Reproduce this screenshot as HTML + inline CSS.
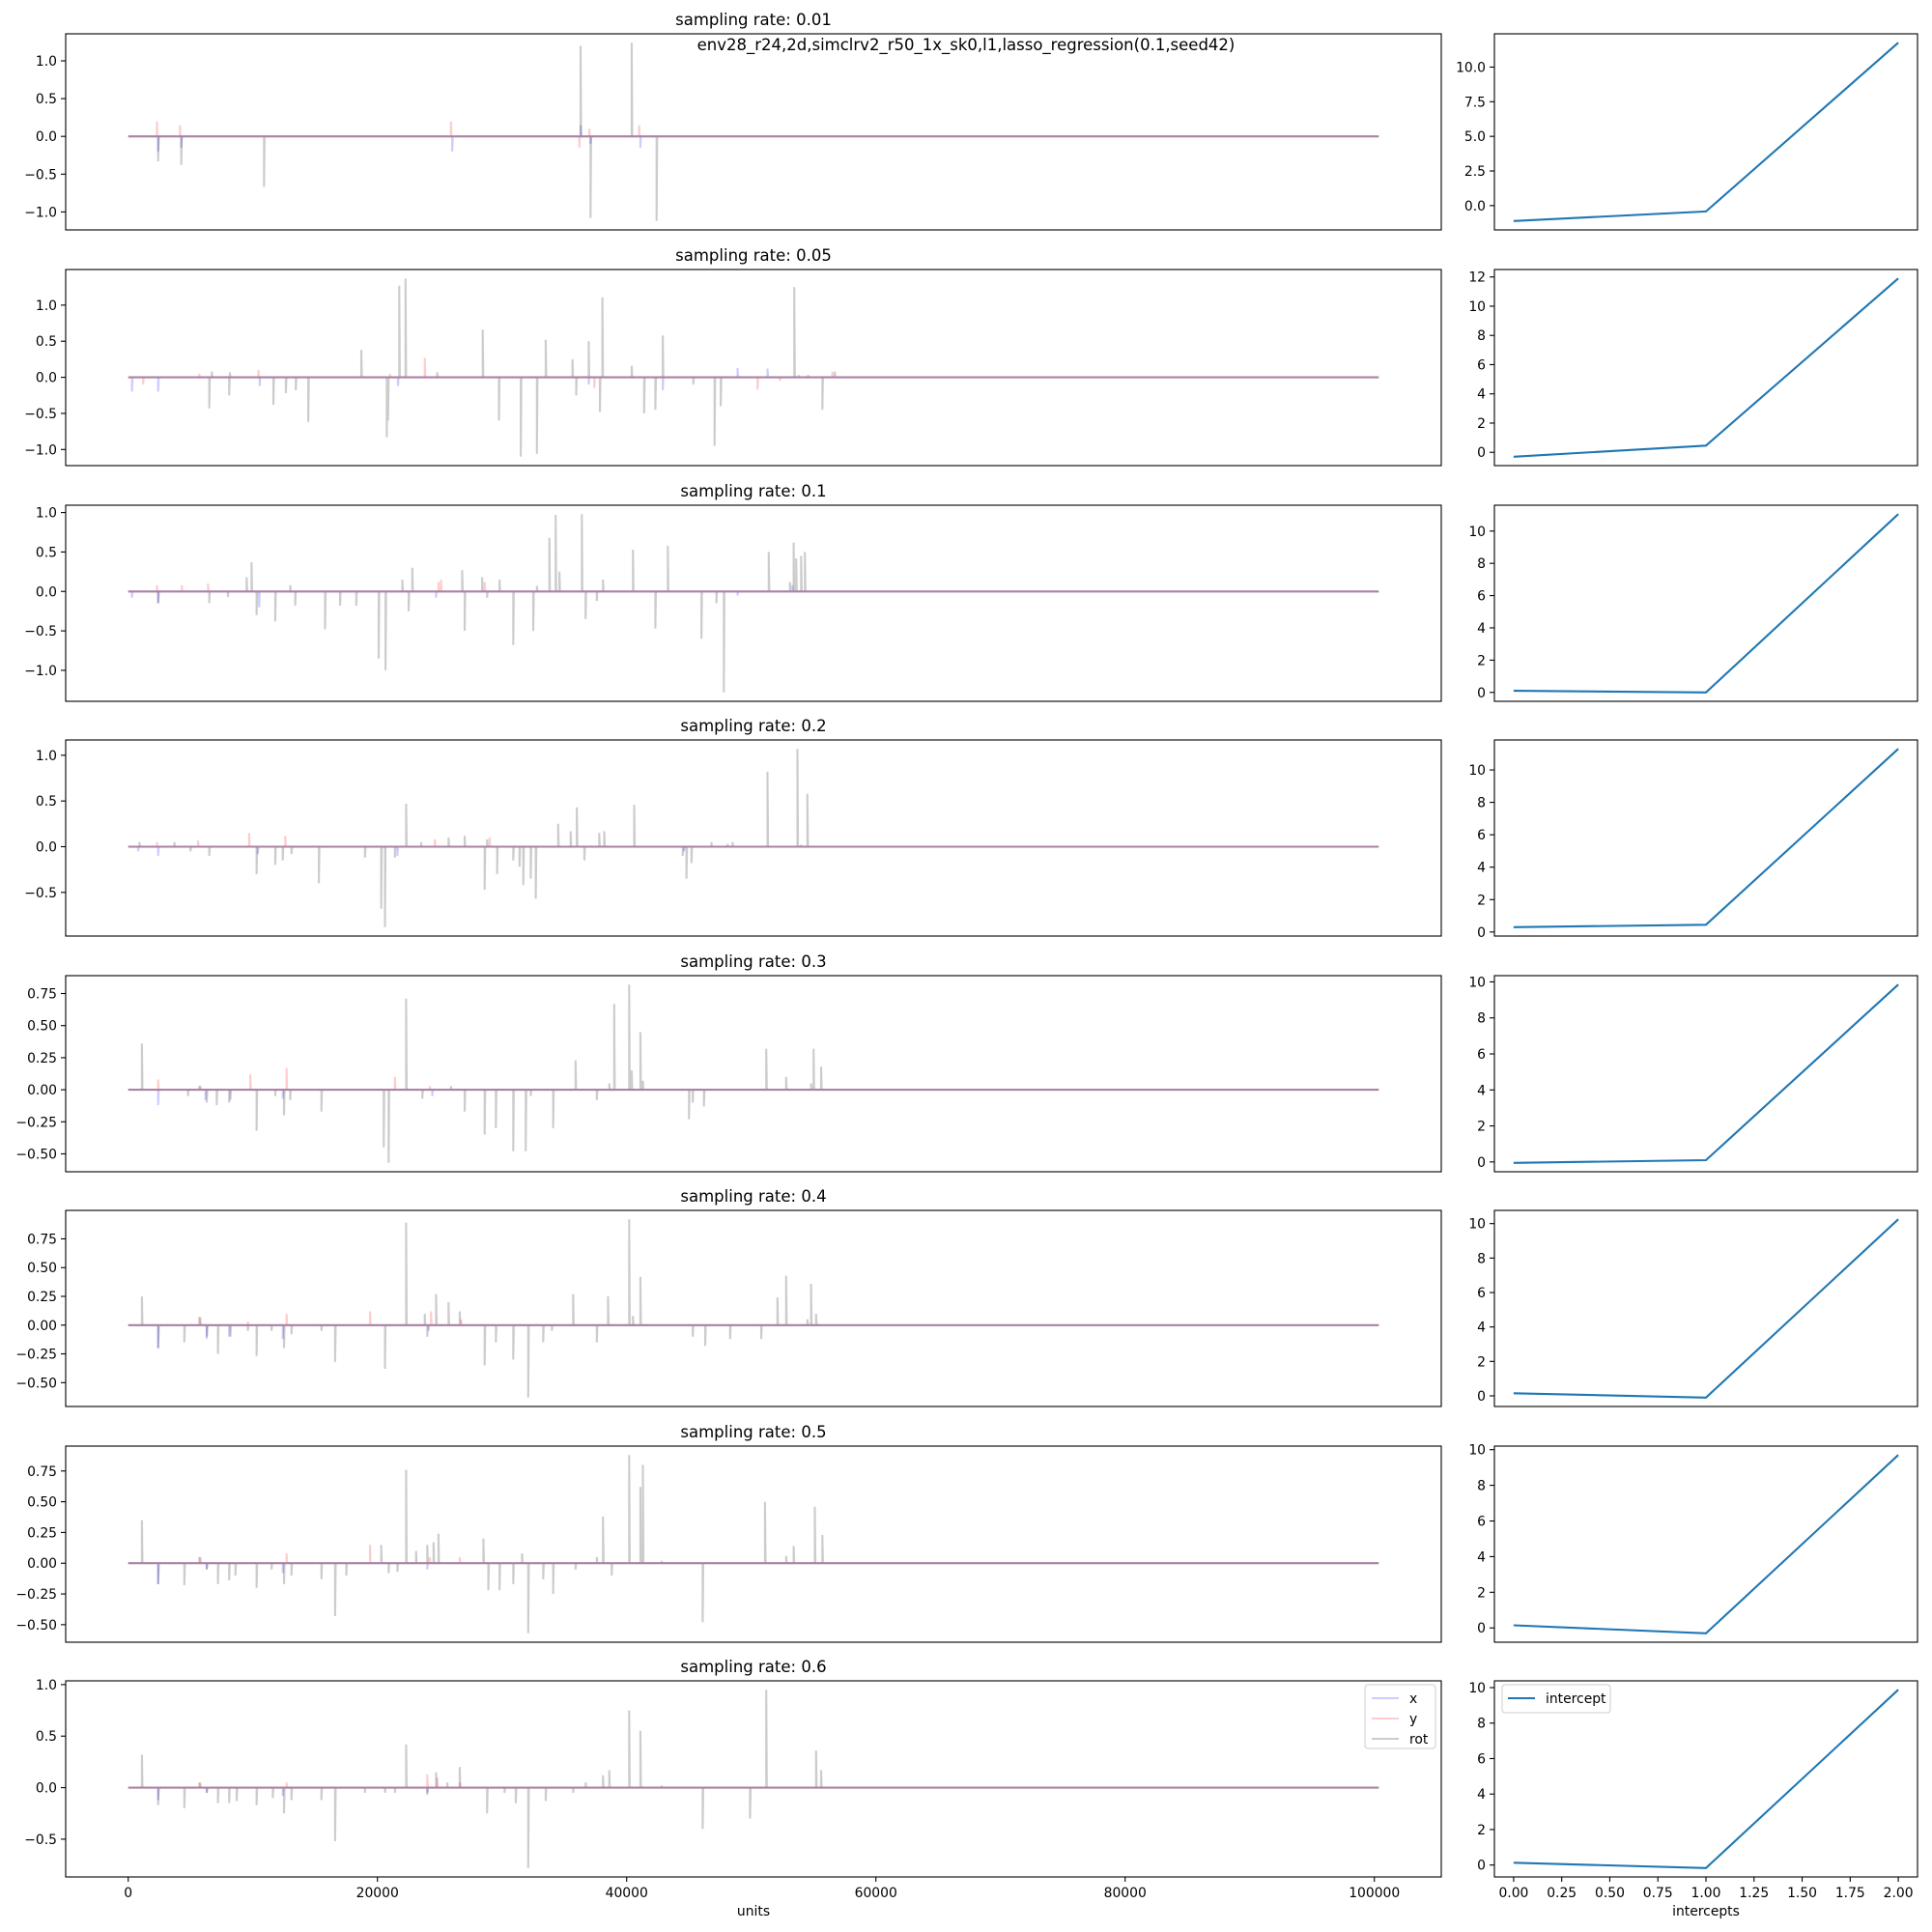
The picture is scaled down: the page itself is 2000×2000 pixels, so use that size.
<!DOCTYPE html>
<html><head><meta charset="utf-8">
<style>
html,body{margin:0;padding:0;background:#fff;}
svg{display:block;font-family:"DejaVu Sans","Liberation Sans",sans-serif;}
</style></head>
<body>
<svg id="fig" width="2000" height="2000" viewBox="0 0 2000 2000" xmlns="http://www.w3.org/2000/svg">
<rect x="0" y="0" width="2000" height="2000" fill="#fff"/>
<text x="1000" y="52" text-anchor="middle" font-size="16.5">env28_r24,2d,simclrv2_r50_1x_sk0,l1,lasso_regression(0.1,seed42)</text>
</svg>
<script>
// ---- data ----
const rateLabels = ["0.01","0.05","0.1","0.2","0.3","0.4","0.5","0.6"];
const seriesEnd = 100352;
// spikes per panel: [unit, value]
const rot1 = [[2400,-0.33],[4250,-0.38],[10900,-0.67],[36300,1.2],[37100,-1.08],[40400,1.24],[42400,-1.12]];
const x1 = [[2400,-0.2],[4250,-0.15],[26000,-0.2],[36300,0.15],[37100,-0.1],[41100,-0.15]];
const y1 = [[2300,0.2],[4150,0.15],[25900,0.2],[36200,-0.15],[37000,0.1],[41000,0.15]];
const rot2 = [[6500,-0.43],[6700,0.08],[8100,-0.25],[8150,0.07],[11650,-0.38],[12650,-0.22],[13450,-0.18],[14450,-0.62],[18700,0.38],[20750,-0.83],[20850,-0.6],[21750,1.27],[22250,1.37],[24800,0.07],[28450,0.66],[29750,-0.6],[31500,-1.1],[32800,-1.06],[33500,0.52],[35650,0.25],[35950,-0.25],[36950,0.5],[37850,-0.48],[38050,1.11],[40400,0.16],[41400,-0.5],[42300,-0.45],[42900,0.58],[45350,-0.1],[47050,-0.95],[47550,-0.4],[53450,1.25],[54550,0.03],[55700,-0.45],[56700,0.08]];
const x2 = [[300,-0.2],[2400,-0.2],[10550,-0.12],[21650,-0.12],[36950,-0.1],[42900,-0.18],[48900,0.13],[51300,0.12],[53800,0.03]];
const y2 = [[1200,-0.1],[5700,0.05],[10450,0.1],[21000,0.05],[23800,0.27],[37400,-0.15],[50500,-0.17],[52300,-0.05],[56500,0.08]];
const rot3 = [[2400,-0.15],[6500,-0.15],[8000,-0.07],[9500,0.18],[9900,0.37],[10300,-0.3],[11800,-0.38],[13000,0.08],[13400,-0.18],[15800,-0.48],[17000,-0.18],[18300,-0.18],[20100,-0.85],[20650,-1.0],[22000,0.15],[22500,-0.25],[22800,0.3],[26800,0.27],[27000,-0.5],[28400,0.18],[28800,-0.08],[29800,0.15],[30900,-0.68],[32500,-0.5],[32800,0.07],[33800,0.68],[34300,0.97],[34600,0.25],[36400,0.98],[36700,-0.35],[37600,-0.12],[38100,0.15],[40500,0.53],[42300,-0.47],[43300,0.58],[46000,-0.6],[47200,-0.15],[47800,-1.28],[51400,0.5],[53100,0.12],[53400,0.62],[53600,0.42],[54000,0.45],[54300,0.5]];
const x3 = [[300,-0.08],[2400,-0.15],[10500,-0.2],[24700,-0.08],[48900,-0.05],[53300,0.08]];
const y3 = [[2300,0.08],[4300,0.08],[6400,0.1],[24900,0.12],[25100,0.15],[28600,0.12]];
const rot4 = [[900,0.05],[3700,0.05],[5000,-0.05],[6500,-0.1],[10300,-0.3],[11800,-0.2],[12400,-0.15],[13100,-0.08],[15300,-0.4],[19000,-0.12],[20300,-0.68],[20600,-0.88],[21400,-0.12],[22300,0.47],[23500,0.05],[25700,0.1],[27000,0.12],[28600,-0.47],[28800,0.08],[29600,-0.3],[30900,-0.15],[31400,-0.22],[31700,-0.42],[32300,-0.35],[32700,-0.57],[34500,0.25],[35500,0.17],[36000,0.43],[36600,-0.15],[37800,0.15],[38200,0.17],[40600,0.46],[44500,-0.1],[44800,-0.35],[45200,-0.18],[46800,0.05],[48100,0.03],[48500,0.05],[51300,0.82],[53700,1.07],[54000,0.02],[54500,0.58]];
const x4 = [[800,-0.05],[2400,-0.1],[10400,-0.08],[21600,-0.1],[44600,-0.05]];
const y4 = [[2300,0.05],[5600,0.07],[9700,0.15],[12600,0.12],[24600,0.08],[29000,0.1]];
const rot5 = [[1100,0.36],[4800,-0.05],[5700,0.03],[6300,-0.1],[7100,-0.12],[8100,-0.1],[10300,-0.32],[11800,-0.05],[12500,-0.2],[13000,-0.08],[15500,-0.17],[20500,-0.45],[20900,-0.57],[22300,0.71],[23600,-0.07],[25900,0.03],[27000,-0.17],[28600,-0.35],[29500,-0.3],[30900,-0.48],[31900,-0.48],[32300,-0.05],[34100,-0.3],[35900,0.23],[37600,-0.08],[38600,0.05],[39000,0.67],[40200,0.82],[40400,0.15],[41100,0.45],[41300,0.07],[45000,-0.23],[45300,-0.1],[46200,-0.13],[51200,0.32],[52800,0.1],[54800,0.05],[55000,0.32],[55600,0.18]];
const x5 = [[2400,-0.12],[6200,-0.08],[8200,-0.08],[12400,-0.07],[24400,-0.05]];
const y5 = [[2400,0.08],[5800,0.03],[9800,0.12],[12700,0.17],[21400,0.1],[24200,0.03]];
const rot6 = [[1100,0.25],[2400,-0.2],[4500,-0.15],[5700,0.07],[6300,-0.1],[7200,-0.25],[8200,-0.1],[9600,-0.05],[10300,-0.27],[11500,-0.05],[12500,-0.2],[13100,-0.08],[15500,-0.05],[16600,-0.32],[20600,-0.38],[22300,0.89],[23800,0.1],[24000,-0.1],[24700,0.27],[25700,0.2],[26600,0.12],[28600,-0.35],[29500,-0.15],[30900,-0.3],[32100,-0.63],[33300,-0.15],[34000,-0.05],[35700,0.27],[37600,-0.15],[38500,0.25],[40200,0.92],[40500,0.08],[41100,0.42],[45300,-0.1],[46300,-0.18],[48300,-0.12],[50800,-0.12],[52100,0.24],[52800,0.43],[54500,0.05],[54800,0.36],[55200,0.1]];
const x6 = [[2400,-0.2],[6300,-0.12],[8100,-0.1],[12400,-0.12],[24100,-0.05]];
const y6 = [[5800,0.07],[9600,0.03],[12700,0.1],[19400,0.12],[24300,0.12],[26700,0.05]];
const rot7 = [[1100,0.35],[2400,-0.17],[4500,-0.18],[5700,0.05],[6300,-0.05],[7200,-0.17],[8100,-0.14],[8600,-0.1],[10300,-0.2],[11500,-0.05],[12500,-0.17],[13100,-0.1],[15500,-0.13],[16600,-0.43],[17500,-0.1],[20300,0.15],[20900,-0.08],[21600,-0.07],[22300,0.76],[23100,0.1],[24000,0.15],[24500,0.17],[24900,0.24],[28500,0.2],[28900,-0.22],[29800,-0.22],[30900,-0.17],[31600,0.08],[32100,-0.57],[33300,-0.13],[34100,-0.25],[35900,-0.05],[37600,0.05],[38100,0.38],[38800,-0.1],[40200,0.88],[41100,0.62],[41300,0.8],[42800,0.02],[46100,-0.48],[51100,0.5],[52800,0.06],[53400,0.14],[55100,0.46],[55700,0.23]];
const x7 = [[2400,-0.17],[6300,-0.05],[12400,-0.08],[24000,-0.05]];
const y7 = [[5800,0.05],[12700,0.08],[19400,0.15],[24200,0.05],[26600,0.05]];
const rot8 = [[1100,0.32],[2400,-0.17],[4500,-0.2],[5700,0.05],[6300,-0.05],[7200,-0.15],[8100,-0.15],[8700,-0.13],[10300,-0.17],[11600,-0.1],[12500,-0.25],[13100,-0.12],[15500,-0.12],[16600,-0.52],[19000,-0.05],[20600,-0.05],[21400,-0.05],[22300,0.42],[24000,-0.07],[24700,0.15],[25600,0.05],[26600,0.2],[28800,-0.25],[30200,-0.05],[31100,-0.15],[32100,-0.78],[33500,-0.13],[35700,-0.05],[36700,0.05],[38100,0.12],[38600,0.17],[40200,0.75],[41100,0.55],[42800,0.02],[46100,-0.4],[49900,-0.3],[51200,0.95],[55200,0.36],[55600,0.17]];
const x8 = [[2400,-0.12],[6300,-0.05],[12400,-0.08],[24000,-0.05]];
const y8 = [[5800,0.05],[12700,0.05],[24000,0.13],[24800,0.1],[26600,0.05]];
const rotSeries = [rot1,rot2,rot3,rot4,rot5,rot6,rot7,rot8];
const xSeries = [x1,x2,x3,x4,x5,x6,x7,x8];
const ySeries = [y1,y2,y3,y4,y5,y6,y7,y8];
// intercepts (right column), x = 0,1,2
const interceptX = [0,1,2];
const intercept1 = [-1.11,-0.42,11.76];
const intercept2 = [-0.3,0.46,11.9];
const intercept3 = [0.1,0.0,11.05];
const intercept4 = [0.3,0.45,11.3];
const intercept5 = [-0.05,0.1,9.85];
const intercept6 = [0.15,-0.1,10.25];
const intercept7 = [0.15,-0.3,9.7];
const intercept8 = [0.13,-0.17,9.88];
const intercepts = [intercept1,intercept2,intercept3,intercept4,intercept5,intercept6,intercept7,intercept8];
// tick values
const leftTicks = [[-1,-0.5,0,0.5,1],[-1,-0.5,0,0.5,1],[-1,-0.5,0,0.5,1],[-0.5,0,0.5,1],[-0.5,-0.25,0,0.25,0.5,0.75],[-0.5,-0.25,0,0.25,0.5,0.75],[-0.5,-0.25,0,0.25,0.5,0.75],[-0.5,0,0.5,1]];
const leftDecimals = [1,1,1,1,2,2,2,1];
const rightTicks = [[0,2.5,5,7.5,10],[0,2,4,6,8,10,12],[0,2,4,6,8,10],[0,2,4,6,8,10],[0,2,4,6,8,10],[0,2,4,6,8,10],[0,2,4,6,8,10],[0,2,4,6,8,10]];
const rightDecimals = [1,0,0,0,0,0,0,0];
const unitTicks = [0,20000,40000,60000,80000,100000];
const interceptTicks = [0,0.25,0.5,0.75,1,1.25,1.5,1.75,2];

// ---- drawing ----
const NS = "http://www.w3.org/2000/svg";
const svg = document.getElementById("fig");
function mk(tag, attrs, parent){const e=document.createElementNS(NS,tag);for(const k in attrs)e.setAttribute(k,attrs[k]);(parent||svg).appendChild(e);return e;}
function fmt(v,d){const s=Math.abs(v).toFixed(d);return (v<0?"\u2212":"")+s;}
function lim(min,max){const r=max-min;return [min-0.05*r,max+0.05*r];}

const LX0=68, LX1=1492, RX0=1547, RX1=1985;
const tops=[35,279,523,766,1010,1253,1497,1740], H=203;
const uxDom = lim(0,seriesEnd);
const sxU = u => LX0+(u-uxDom[0])/(uxDom[1]-uxDom[0])*(LX1-LX0);
const ixDom = lim(0,2);
const sxI = v => RX0+(v-ixDom[0])/(ixDom[1]-ixDom[0])*(RX1-RX0);

const colors = {x:"rgb(0,0,255)", y:"rgb(255,0,0)", rot:"rgb(0,0,0)"};

for(let i=0;i<8;i++){
  const top=tops[i], bot=top+H;
  const g = mk("g",{});
  
  
  let vals=[0];
  [rotSeries[i],xSeries[i],ySeries[i]].forEach(s=>s.forEach(p=>vals.push(p[1])));
  const yd = lim(Math.min(...vals),Math.max(...vals));
  const sy = v => bot-(v-yd[0])/(yd[1]-yd[0])*H;
  const t = mk("text",{x:(LX0+LX1)/2,y:top-9,"text-anchor":"middle","font-size":"16.5"},g);
  t.textContent="sampling rate: "+rateLabels[i];
  
  
  [["x",xSeries[i]],["y",ySeries[i]],["rot",rotSeries[i]]].forEach(([nm,s])=>{
    const sorted=s.slice().sort((a,b)=>a[0]-b[0]);
    let pts=[[sxU(0),sy(0)]];
    sorted.forEach(p=>{pts.push([sxU(p[0]),sy(0)]);pts.push([sxU(p[0]),sy(p[1])]);pts.push([sxU(p[0])+0.6,sy(0)]);});
    pts.push([sxU(seriesEnd),sy(0)]);
    const pl=mk("polyline",{points:pts.map(p=>p[0].toFixed(1)+","+p[1].toFixed(1)).join(" "),fill:"none",stroke:colors[nm],"stroke-opacity":"0.2","stroke-width":"2.1","stroke-linejoin":"miter"},g);
    
    
  });
  const fr=mk("rect",{x:LX0,y:top,width:LX1-LX0,height:H,fill:"none",stroke:"#000","stroke-width":"1.1"},g);
  
  
  leftTicks[i].forEach(v=>{
    const y=sy(v);
    mk("line",{x1:LX0-5,x2:LX0,y1:y,y2:y,stroke:"#000","stroke-width":"1.1"},g);
    const tl=mk("text",{x:LX0-9,y:y+5,"text-anchor":"end","font-size":"13.9"},g);
    tl.textContent=fmt(v,leftDecimals[i]);
    
    
  });
  const iv=intercepts[i];
  const rd=lim(Math.min(...iv),Math.max(...iv));
  const ry = v => bot-(v-rd[0])/(rd[1]-rd[0])*H;
  const ip=mk("polyline",{points:interceptX.map((x,k)=>sxI(x).toFixed(1)+","+ry(iv[k]).toFixed(1)).join(" "),fill:"none",stroke:"#1f77b4","stroke-width":"2.1"},g);
  
  
  const rf=mk("rect",{x:RX0,y:top,width:RX1-RX0,height:H,fill:"none",stroke:"#000","stroke-width":"1.1"},g);
  
  
  rightTicks[i].forEach(v=>{
    const y=ry(v);
    mk("line",{x1:RX0-5,x2:RX0,y1:y,y2:y,stroke:"#000","stroke-width":"1.1"},g);
    const tl=mk("text",{x:RX0-9,y:y+5,"text-anchor":"end","font-size":"13.9"},g);
    tl.textContent=fmt(v,rightDecimals[i]);
    
    
  });
  if(i===7){
    unitTicks.forEach(u=>{
      const x=sxU(u);
      mk("line",{x1:x,x2:x,y1:bot,y2:bot+5,stroke:"#000","stroke-width":"1.1"},g);
      const tl=mk("text",{x:x,y:bot+21,"text-anchor":"middle","font-size":"13.9"},g);
      tl.textContent=String(u);
      
      
    });
    interceptTicks.forEach(v=>{
      const x=sxI(v);
      mk("line",{x1:x,x2:x,y1:bot,y2:bot+5,stroke:"#000","stroke-width":"1.1"},g);
      const tl=mk("text",{x:x,y:bot+21,"text-anchor":"middle","font-size":"13.9"},g);
      tl.textContent=v.toFixed(2);
      
      
    });
    const xl=mk("text",{x:(LX0+LX1)/2,y:bot+40,"text-anchor":"middle","font-size":"13.9"},g);
    xl.textContent="units";
    
    
    const xl2=mk("text",{x:(RX0+RX1)/2,y:bot+40,"text-anchor":"middle","font-size":"13.9"},g);
    xl2.textContent="intercepts";
    
    
    const lg=mk("g",{},g);
    
    
    mk("rect",{x:1413,y:top+4,width:73,height:66,rx:3,fill:"#fff","fill-opacity":"0.8",stroke:"#ccc","stroke-width":"1"},lg);
    [["x",colors.x],["y",colors.y],["rot",colors.rot]].forEach((e,k)=>{
      const yy=top+18+k*21;
      const ln=mk("line",{x1:1420,x2:1448,y1:yy,y2:yy,stroke:e[1],"stroke-opacity":"0.2","stroke-width":"2.1"},lg);
      
      
      const tx=mk("text",{x:1459,y:yy+5,"font-size":"13.9"},lg);
      tx.textContent=e[0];
    });
    const rg=mk("g",{},g);
    
    
    mk("rect",{x:1555,y:top+4,width:112,height:29,rx:3,fill:"#fff","fill-opacity":"0.8",stroke:"#ccc","stroke-width":"1"},rg);
    mk("line",{x1:1561,x2:1589,y1:top+18,y2:top+18,stroke:"#1f77b4","stroke-width":"2.1"},rg);
    const rt=mk("text",{x:1600,y:top+23,"font-size":"13.9"},rg);
    rt.textContent="intercept";
  }
}
</script>
</body></html>
